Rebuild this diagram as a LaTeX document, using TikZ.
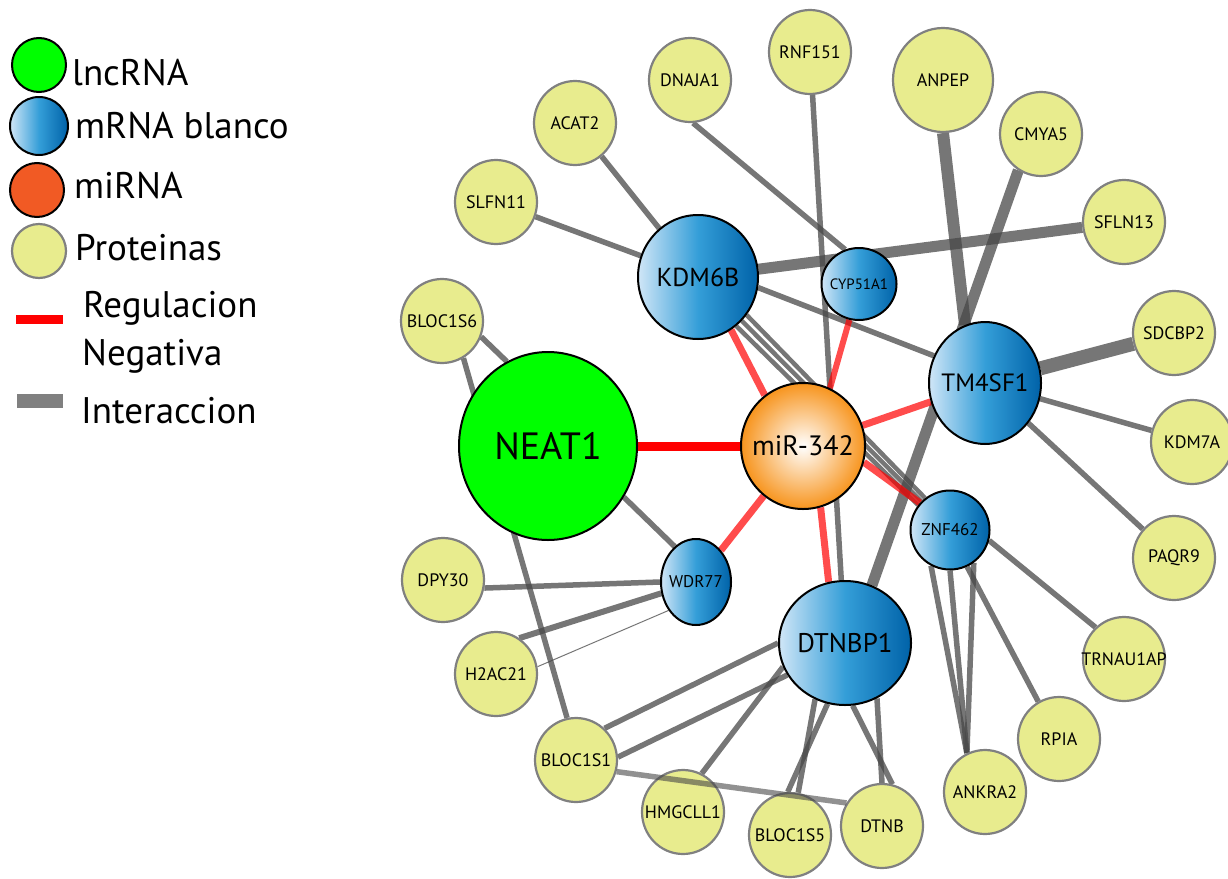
\documentclass[tikz,border=0pt]{standalone}
\usepackage{fontspec}
\setmainfont{PT Sans}
\usetikzlibrary{shapes.geometric,backgrounds}

\definecolor{lncgreen}{RGB}{0,255,0}
\definecolor{mirorange}{RGB}{247,148,29}
\definecolor{legorange}{RGB}{241,90,36}
\definecolor{protfill}{RGB}{232,236,142}
\definecolor{protline}{RGB}{128,128,128}
\definecolor{bluelight}{RGB}{208,230,247}
\definecolor{bluemid}{RGB}{52,158,216}
\definecolor{bluedark}{RGB}{0,98,168}
\definecolor{edgegray}{RGB}{72,72,72}

\tikzset{
  tight/.style={inner sep=0pt, execute at begin node={\hbox to 0pt\bgroup\hss}, execute at end node={\hss\egroup}},
  prot/.style={ellipse, tight, draw=protline, fill=protfill, line width=2.2pt, minimum width=82pt, minimum height=84pt, font=\fontsize{18}{18}\selectfont},
  target/.style={ellipse, tight, draw=black, line width=2pt, left color=bluelight, right color=bluedark, middle color=bluemid},
  lnc/.style={ellipse, tight, draw=black, line width=2pt, fill=lncgreen},
  mir/.style={ellipse, tight, draw=black, line width=2pt, inner color=white, outer color=mirorange},
  legtext/.style={anchor=base west, inner sep=0pt, font=\fontsize{37}{37}\selectfont},
  inter/.style={draw=edgegray, opacity=0.75, line width=5.5pt},
  inhib/.style={draw=red, opacity=0.7, line width=7pt},
}

\begin{document}
\begin{tikzpicture}[x=1pt,y=-1pt]
\useasboundingbox (0,0) rectangle (1228,878);
%legend
\node[lnc, minimum size=54pt] (keylnc) at (39,65) {};
\node[target, minimum size=58pt] (keymrna) at (39,126) {};
\node[ellipse, draw=black, line width=2pt, fill=legorange, minimum size=54pt] (keymir) at (37,190) {};
\node[ellipse, draw=protline, line width=2.2pt, fill=protfill, minimum size=54pt] (keyprot) at (39,251) {};
\node[legtext] (keylnctxt) at (72,85) {lncRNA};
\node[legtext] (keymrnatxt) at (75,138) {mRNA blanco};
\node[legtext] (keymirtxt) at (74,198) {miRNA};
\node[legtext] (keyprottxt) at (75,260) {Proteinas};
\fill[red] (16,315) rectangle (63,324);
\node[legtext] (keyreg) at (83,317) {Regulacion};
\node[legtext] (keyneg) at (82,365) {Negativa};
\fill[protline] (17,394) rectangle (63,408);
\node[legtext] (keyint) at (81,423) {Interaccion};

%central nodes
\node[lnc, minimum width=178pt, minimum height=188pt, font=\fontsize{38}{38}\selectfont] (NEAT1) at (548,446) {NEAT1};
\node[mir, minimum width=124pt, minimum height=126pt, font=\fontsize{28}{28}\selectfont] (miR) at (803,446) {miR-342};

%targets
\node[target, minimum width=120pt, minimum height=124pt, font=\fontsize{26}{26}\selectfont] (KDM6B) at (698,277) {KDM6B};
\node[target, minimum width=75pt, minimum height=72pt, font=\fontsize{15}{15}\selectfont] (CYP51A1) at (859,284) {CYP51A1};
\node[target, minimum width=112pt, minimum height=122pt, font=\fontsize{25}{25}\selectfont] (TM4SF1) at (985,383) {TM4SF1};
\node[target, minimum width=79pt, minimum height=79pt, font=\fontsize{17}{17}\selectfont] (ZNF462) at (950,530) {ZNF462};
\node[target, minimum width=70pt, minimum height=86pt, font=\fontsize{17}{17}\selectfont] (WDR77) at (696,582) {WDR77};
\node[target, minimum width=132pt, minimum height=124pt, font=\fontsize{27}{27}\selectfont] (DTNBP1) at (845,643) {DTNBP1};

%proteins
\node[prot] (DNAJA1) at (690,80) {DNAJA1};
\node[prot] (RNF151) at (810,52) {RNF151};
\node[prot, minimum width=100pt, minimum height=104pt] (ANPEP) at (943,80) {ANPEP};
\node[prot] (CMYA5) at (1041,134) {CMYA5};
\node[prot] (SFLN13) at (1124,222) {SFLN13};
\node[prot] (ACAT2) at (575,123) {ACAT2};
\node[prot] (SLFN11) at (496,202) {SLFN11};
\node[prot] (BLOC1S6) at (442,321) {BLOC1S6};
\node[prot] (SDCBP2) at (1174,333) {SDCBP2};
\node[prot] (KDM7A) at (1192,442) {KDM7A};
\node[prot] (PAQR9) at (1174,558) {PAQR9};
\node[prot] (TRNAU1AP) at (1124,659) {TRNAU1AP};
\node[prot] (RPIA) at (1059,739) {RPIA};
\node[prot] (ANKRA2) at (985,792) {ANKRA2};
\node[prot] (DTNB) at (882,826) {DTNB};
\node[prot] (BLOC1S5) at (790,835) {BLOC1S5};
\node[prot] (HMGCLL1) at (683,812) {HMGCLL1};
\node[prot] (BLOC1S1) at (576,760) {BLOC1S1};
\node[prot] (H2AC21) at (496,674) {H2AC21};
\node[prot] (DPY30) at (443,580) {DPY30};

\begin{scope}[on background layer]
%interactions
\draw[inter] (SLFN11) -- (KDM6B);
\draw[inter] (ACAT2) -- (KDM6B);
\draw[inter] (DNAJA1.-86) -- (CYP51A1.112);
\draw[inter] (RNF151) -- (DTNBP1);
\draw[inter, line width=11pt] (SFLN13) -- (KDM6B);
\draw[inter, line width=12pt] (ANPEP.-90) -- (TM4SF1.109);
\draw[inter, line width=11pt] (CMYA5.238) -- (DTNBP1.65);
\draw[inter, line width=14pt] (SDCBP2) -- (TM4SF1);
\draw[inter] (KDM7A) -- (TM4SF1);
\draw[inter] (PAQR9) -- (TM4SF1);
\draw[inter] (KDM6B.-10) -- (TM4SF1.152);
\foreach \a/\b in {-38/128,-45/135,-52/142}
  \draw[inter, line width=4.5pt] (KDM6B.\a) -- (ZNF462.\b);
\foreach \a in {242,270,306}
  \draw[inter] (ZNF462.\a) -- (ANKRA2.115);
\draw[inter] (ZNF462.295) -- (RPIA.119);
\draw[inter] (ZNF462.-15) -- (TRNAU1AP.132);
\draw[inter] (BLOC1S6.-22) -- (NEAT1.116);
\draw[inter] (BLOC1S6.-60) -- (BLOC1S1.102);
\draw[inter] (NEAT1.-34) -- (WDR77.121);
\draw[inter] (DPY30.-11) -- (WDR77.180);
\draw[inter, line width=6pt] (H2AC21.57) -- (WDR77.198);
\draw[inter, line width=1pt] (H2AC21.10) -- (WDR77.226);
\draw[inter] (DTNBP1.180) -- (BLOC1S1.48);
\draw[inter] (DTNBP1.209) -- (BLOC1S1.4);
\draw[inter] (HMGCLL1.64) -- (DTNBP1.201);
\draw[inter] (DTNBP1.242) -- (BLOC1S5.79);
\draw[inter] (DTNBP1.254) -- (BLOC1S5.93);
\draw[inter] (DTNBP1.277) -- (DTNB.76);
\draw[inter] (DTNBP1.300) -- (DTNB.90);
%negative regulation
\draw[inhib, opacity=1, line width=9pt] (NEAT1) -- (miR);
\draw[inhib] (miR.127) -- (KDM6B.-58);
\draw[inhib, line width=6pt] (miR.65) -- (CYP51A1.255);
\draw[inhib] (miR) -- (TM4SF1);
\draw[inhib] (miR.-15) -- (ZNF462.138);
\draw[inhib] (miR.-74) -- (DTNBP1.105);
\draw[inhib] (miR) -- (WDR77);
\end{scope}
\draw[inter, opacity=0.6] (BLOC1S1.-16) -- (DTNB.147);
\end{tikzpicture}
\end{document}
